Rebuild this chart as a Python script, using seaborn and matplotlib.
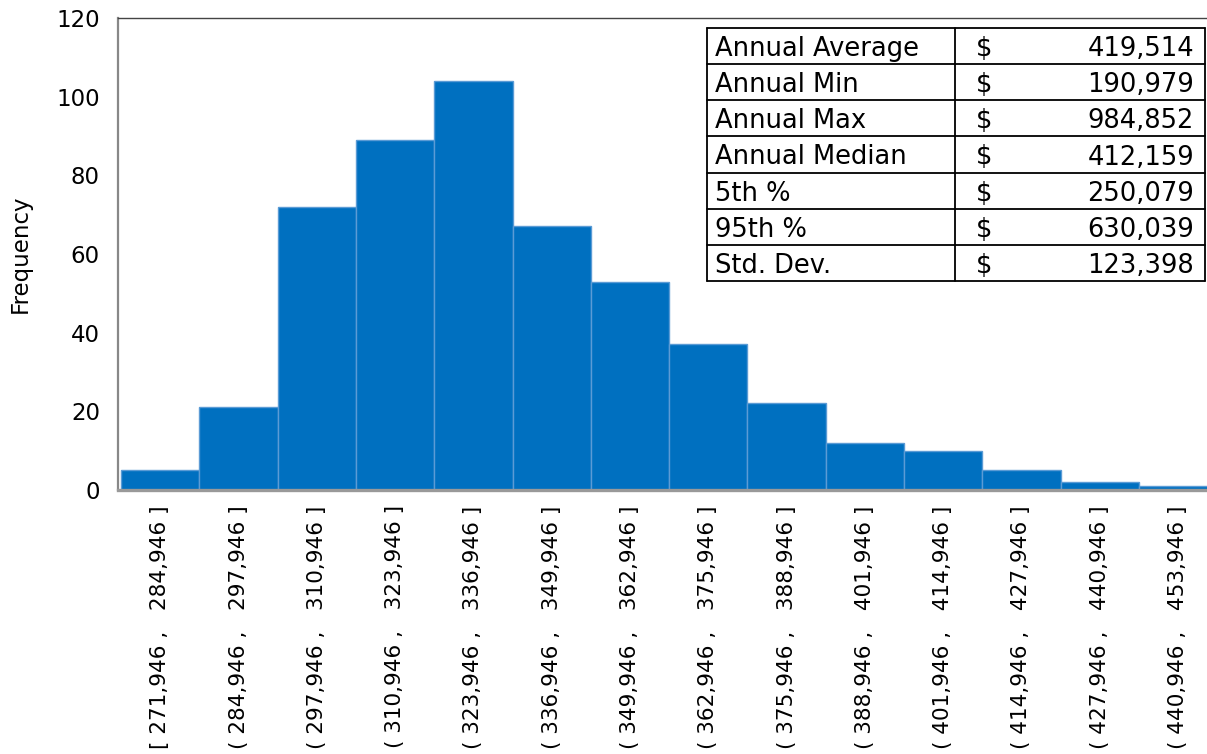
import matplotlib
matplotlib.use("Agg")
import matplotlib.pyplot as plt
import seaborn as sns
from matplotlib.lines import Line2D

# bin bounds (as printed on the axis) and counts per bin
bin_lo = ["271,946", "284,946", "297,946", "310,946", "323,946", "336,946", "349,946",
          "362,946", "375,946", "388,946", "401,946", "414,946", "427,946", "440,946"]
bin_hi = ["284,946", "297,946", "310,946", "323,946", "336,946", "349,946", "362,946",
          "375,946", "388,946", "401,946", "414,946", "427,946", "440,946", "453,946"]
counts = [5, 21, 72, 89, 104, 67, 53, 37, 22, 12, 10, 5, 2, 1]

# summary table
stat_names = ["Annual Average", "Annual Min", "Annual Max", "Annual Median",
              "5th %", "95th %", "Std. Dev."]
stat_values = ["419,514", "190,979", "984,852", "412,159", "250,079", "630,039", "123,398"]

labels = []
for i, (lo, hi) in enumerate(zip(bin_lo, bin_hi)):
    left = "[" if i == 0 else "("
    labels.append(f"{left} {lo} ,   {hi} ]")

sns.set_style("white")
plt.rcParams['font.family'] = ['DejaVu Sans']
plt.rcParams['text.color'] = 'black'
plt.rcParams['axes.labelcolor'] = 'black'
plt.rcParams['xtick.color'] = 'black'
plt.rcParams['ytick.color'] = 'black'

W, H = 1207, 754
fig = plt.figure(figsize=(W / 100, H / 100), dpi=100)
ax = fig.add_axes([118 / W, 1 - 490 / H, (W - 118) / W, (490 - 18) / H])

sns.barplot(x=labels, y=counts, color="#0070C0", saturation=1, width=1.0,
            edgecolor="#5b9bd5", linewidth=1.0, ax=ax)

ax.set_ylim(0, 120)
ax.set_yticks(range(0, 121, 20))
ax.set_xlim(-0.54, 13.37)
ax.set_xlabel("")
ax.set_ylabel("Frequency", fontsize=16.5, labelpad=18)
ax.tick_params(axis="y", length=0, pad=13, labelsize=16.5)
ax.tick_params(axis="x", length=0, pad=11, labelsize=15.5, rotation=90)

ax.spines["right"].set_visible(False)
ax.spines["left"].set_color("#888888")
ax.spines["left"].set_linewidth(1.6)
ax.spines["bottom"].set_color("#999999")
ax.spines["bottom"].set_linewidth(2.4)
ax.spines["top"].set_color("#444444")
ax.spines["top"].set_linewidth(1.0)

# summary table, drawn in pixel positions of the figure
def fx(px):
    return px / W

def fy(py):
    return 1 - py / H

t_left, t_mid, t_right = 707, 955, 1205
t_top, t_bot = 28, 281
row_h = (t_bot - t_top) / len(stat_names)

fig.patches.append(plt.Rectangle((fx(t_left), fy(t_bot)), fx(t_right) - fx(t_left),
                                 fy(t_top) - fy(t_bot), transform=fig.transFigure,
                                 facecolor="white", edgecolor="none", zorder=5))
for k in range(len(stat_names) + 1):
    y = t_top + k * row_h
    fig.add_artist(Line2D([fx(t_left), fx(t_right)], [fy(y), fy(y)], color="black",
                          lw=1.3, transform=fig.transFigure, zorder=6))
for x in (t_left, t_mid, t_right):
    fig.add_artist(Line2D([fx(x), fx(x)], [fy(t_top), fy(t_bot)], color="black",
                          lw=1.3, transform=fig.transFigure, zorder=6))

for k, (name, val) in enumerate(zip(stat_names, stat_values)):
    yc = fy(t_top + (k + 0.5) * row_h)
    fig.text(fx(715), yc, name, fontsize=18.5, ha="left", va="center_baseline", zorder=7)
    fig.text(fx(976), yc, "$", fontsize=18.5, ha="left", va="center_baseline", zorder=7)
    fig.text(fx(1194), yc, val, fontsize=18.5, ha="right", va="center_baseline", zorder=7)

fig.savefig("out.png", dpi=100)
